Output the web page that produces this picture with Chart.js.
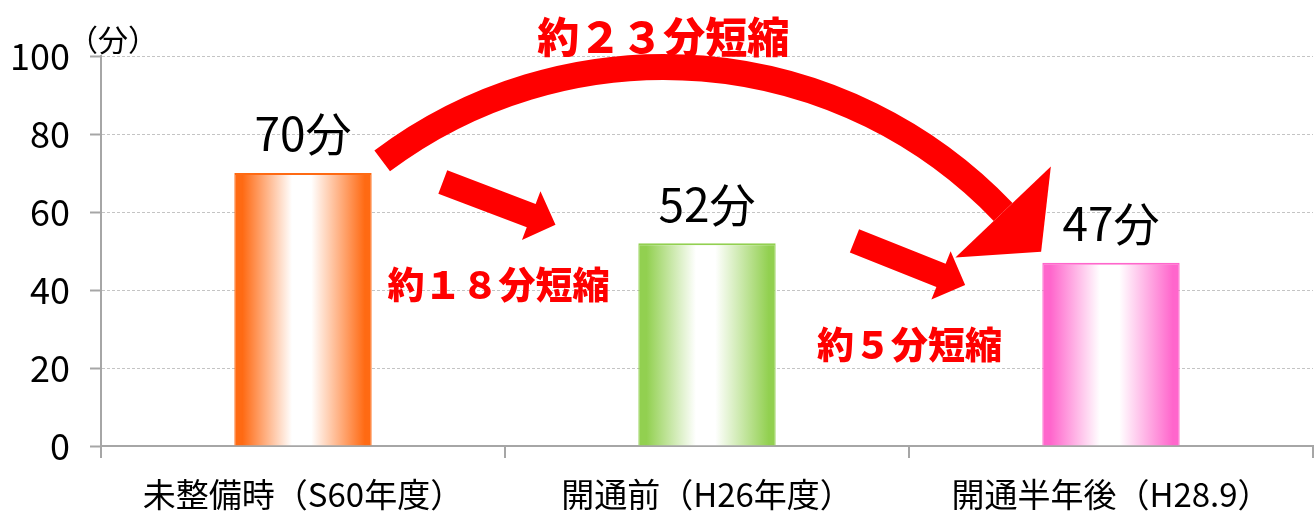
<!DOCTYPE html>
<html>
<head>
<meta charset="utf-8">
<script src="https://cdn.jsdelivr.net/npm/chart.js@4/dist/chart.umd.min.js"></script>
<style>
  html, body { margin: 0; padding: 0; background: #fff; }
  #wrap { width: 1315px; height: 513px; position: relative; }
</style>
</head>
<body>
<div id="wrap"><canvas id="timeChart"></canvas></div>
<script>
// data
const categories = ['未整備時（S60年度）', '開通前（H26年度）', '開通半年後（H28.9）'];
const minutes = [70, 52, 47];
const valueLabels = ['70分', '52分', '47分'];
const yTicks = [0, 20, 40, 60, 80, 100];
const yUnit = '（分）';
const savings = ['約１８分短縮', '約５分短縮', '約２３分短縮'];

const FONT = '"Noto Sans CJK JP", "Noto Sans", sans-serif';
const edgeColors = ['#ff6a13', '#92d050', '#ff66cc'];
const BAR_PCT = 0.34;

Chart.defaults.font.family = FONT;
Chart.defaults.color = '#000';

function barGradient(ctx) {
  const chart = ctx.chart;
  const i = ctx.dataIndex;
  const edge = edgeColors[i] || edgeColors[0];
  const xs = chart.scales.x;
  if (!xs || i === undefined || !isFinite(xs.width)) return edge;
  const cx = xs.getPixelForValue(i);
  const w = xs.width / categories.length * BAR_PCT;
  const g = chart.ctx.createLinearGradient(cx - w / 2, 0, cx + w / 2, 0);
  g.addColorStop(0, edge);
  g.addColorStop(0.06, edge);
  g.addColorStop(0.42, '#ffffff');
  g.addColorStop(0.56, '#ffffff');
  g.addColorStop(0.95, edge);
  g.addColorStop(1, edge);
  return g;
}

// straight block arrow, tail -> tip
function blockArrow(c, t, p, shaftHalf, headLen, headHalf) {
  const dx = p.x - t.x, dy = p.y - t.y;
  const len = Math.hypot(dx, dy);
  const ux = dx / len, uy = dy / len;
  const nx = -uy, ny = ux;
  const bx = p.x - ux * headLen, by = p.y - uy * headLen;
  c.beginPath();
  c.moveTo(t.x + nx * shaftHalf, t.y + ny * shaftHalf);
  c.lineTo(bx + nx * shaftHalf, by + ny * shaftHalf);
  c.lineTo(bx + nx * headHalf, by + ny * headHalf);
  c.lineTo(p.x, p.y);
  c.lineTo(bx - nx * headHalf, by - ny * headHalf);
  c.lineTo(bx - nx * shaftHalf, by - ny * shaftHalf);
  c.lineTo(t.x - nx * shaftHalf, t.y - ny * shaftHalf);
  c.closePath();
  c.fill();
}

function circleFrom3(a, b, c) {
  const d = 2 * (a.x * (b.y - c.y) + b.x * (c.y - a.y) + c.x * (a.y - b.y));
  const a2 = a.x * a.x + a.y * a.y, b2 = b.x * b.x + b.y * b.y, c2 = c.x * c.x + c.y * c.y;
  const x = (a2 * (b.y - c.y) + b2 * (c.y - a.y) + c2 * (a.y - b.y)) / d;
  const y = (a2 * (c.x - b.x) + b2 * (a.x - c.x) + c2 * (b.x - a.x)) / d;
  return { x, y, r: Math.hypot(a.x - x, a.y - y) };
}

const annotations = {
  id: 'annotations',
  afterDatasetsDraw(chart) {
    const c = chart.ctx;
    const xs = chart.scales.x, ys = chart.scales.y;
    const pt = (i, v) => ({ x: xs.getPixelForValue(i), y: ys.getPixelForValue(v) });
    c.save();
    c.fillStyle = '#ff0000';
    c.strokeStyle = '#ff0000';

    // small arrows
    blockArrow(c, pt(0.346, 67.7), pt(0.625, 56.7), 12.5, 26, 26);
    blockArrow(c, pt(1.365, 52.6), pt(1.639, 41.3), 12.5, 26, 26);

    // big curved arrow
    const A = pt(0.196, 73.1), P = pt(0.887, 97.2), B = pt(1.733, 60.0);
    const circ = circleFrom3(A, P, B);
    const a1 = Math.atan2(A.y - circ.y, A.x - circ.x);
    const a2 = Math.atan2(B.y - circ.y, B.x - circ.x);
    c.lineWidth = 26;
    c.lineCap = 'butt';
    c.beginPath();
    c.arc(circ.x, circ.y, circ.r, a1, a2, false);
    c.stroke();
    const ux = -Math.sin(a2), uy = Math.cos(a2);
    const nx = -uy, ny = ux;
    c.beginPath();
    c.moveTo(B.x + nx * 66, B.y + ny * 66);
    c.lineTo(B.x + ux * 55, B.y + uy * 55);
    c.lineTo(B.x - nx * 66, B.y - ny * 66);
    c.closePath();
    c.fill();

    // red captions
    c.textAlign = 'center';
    c.textBaseline = 'middle';
    c.font = '900 37px ' + FONT;
    let q = pt(0.484, 41.3);
    c.fillText(savings[0], q.x, q.y);
    q = pt(1.501, 25.9);
    c.fillText(savings[1], q.x, q.y);
    c.font = '900 42px ' + FONT;
    q = pt(0.892, 104.9);
    c.fillText(savings[2], q.x, q.y);

    // value labels
    c.fillStyle = '#000';
    c.font = '46px ' + FONT;
    chart.getDatasetMeta(0).data.forEach((el, i) => {
      c.fillText(valueLabels[i], el.x, el.y - 39);
    });

    // unit label
    c.font = '30px ' + FONT;
    c.fillText(yUnit, chart.chartArea.left + 12, chart.chartArea.top - 16);
    c.restore();
  }
};

new Chart(document.getElementById('timeChart'), {
  type: 'bar',
  data: {
    labels: categories,
    datasets: [{
      data: minutes,
      backgroundColor: barGradient,
      borderColor: edgeColors,
      borderWidth: { top: 2, left: 1, right: 1, bottom: 0 },
      borderSkipped: false,
      categoryPercentage: 1,
      barPercentage: BAR_PCT
    }]
  },
  options: {
    responsive: true,
    maintainAspectRatio: false,
    animation: false,
    layout: { padding: { top: 56, right: 2, left: 0, bottom: 0 } },
    plugins: {
      legend: { display: false },
      tooltip: { enabled: false }
    },
    scales: {
      x: {
        afterFit: axis => { axis.height = 67; },
        grid: {
          display: true,
          drawOnChartArea: false,
          drawTicks: true,
          tickLength: 12,
          color: '#a6a6a6',
          lineWidth: 2
        },
        border: { display: true, color: '#a6a6a6', width: 2 },
        ticks: { font: { size: 33 }, color: '#000', padding: 17 }
      },
      y: {
        min: 0,
        max: 100,
        afterFit: axis => { axis.width = 101; },
        afterBuildTicks: axis => { axis.ticks = yTicks.map(v => ({ value: v })); },
        grid: {
          color: '#c4c4c4',
          lineWidth: 1,
          tickColor: '#a6a6a6',
          tickWidth: 2,
          tickLength: 11,
          tickBorderDash: []
        },
        border: { display: true, color: '#a6a6a6', width: 2, dash: [3, 2] },
        ticks: { font: { size: 36 }, color: '#000', padding: 20 }
      }
    }
  },
  plugins: [annotations]
});
</script>
</body>
</html>
